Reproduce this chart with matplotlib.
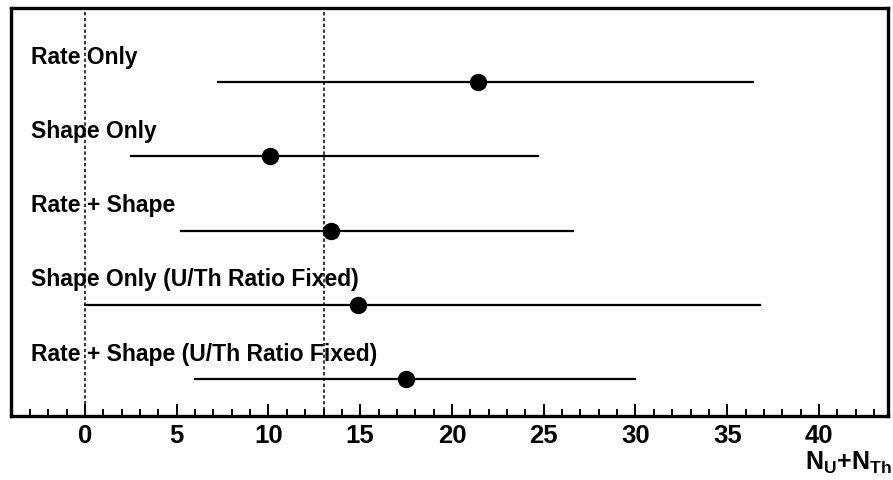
import numpy as np
import matplotlib.pyplot as plt
from matplotlib.ticker import MultipleLocator

plt.rcParams['font.family'] = ['Liberation Sans', 'DejaVu Sans']
plt.rcParams['font.weight'] = 'bold'
plt.rcParams['mathtext.fontset'] = 'custom'
plt.rcParams['mathtext.bf'] = 'Liberation Sans:bold'
plt.rcParams['mathtext.rm'] = 'Liberation Sans:bold'

# fit results, top row first
labels = ["Rate Only", "Shape Only", "Rate + Shape",
          "Shape Only (U/Th Ratio Fixed)", "Rate + Shape (U/Th Ratio Fixed)"]
best = [21.4, 10.08, 13.39, 14.9, 17.5]
low = [7.26, 2.51, 5.21, 0.0, 5.99]
high = [36.42, 24.70, 26.61, 36.78, 29.97]
ref_lines = [0, 13]

rows = np.arange(len(labels), 0, -1)

fig = plt.figure(figsize=(8.93, 4.81), dpi=100)
ax = fig.add_axes([11/893, 64/481, 877/893, 408/481])

for xv in ref_lines:
    ax.axvline(xv, color='black', lw=1.1, linestyle=(0, (2.2, 1.6)), zorder=1)

for y, lab, b, lo, hi in zip(rows, labels, best, low, high):
    ax.plot([lo, hi], [y, y], color='black', lw=1.6, zorder=2)
    ax.plot(b, y, 'o', color='black', markersize=11.5, zorder=3)
    ax.text(-2.93, y + 0.26, lab, fontsize=16.5, fontweight='bold', va='baseline', ha='left')

ax.set_xlim(-4.03, 43.76)
ax.set_ylim(0.5, 6.0)
ax.set_yticks([])
ax.xaxis.set_major_locator(MultipleLocator(5))
ax.xaxis.set_minor_locator(MultipleLocator(1))
ax.tick_params(axis='x', which='major', direction='in', length=9, width=1.4,
               labelsize=18.5, pad=5, top=False)
ax.tick_params(axis='x', which='minor', direction='in', length=5, width=1.4, top=False)
for lbl in ax.get_xticklabels():
    lbl.set_fontweight('bold')
for s in ax.spines.values():
    s.set_linewidth(2.4)

fig.text(892/893, 11/481, r'$\mathbf{N_{U}{+}N_{Th}}$', fontsize=18, ha='right', va='baseline')

fig.savefig('out.png', dpi=100)
